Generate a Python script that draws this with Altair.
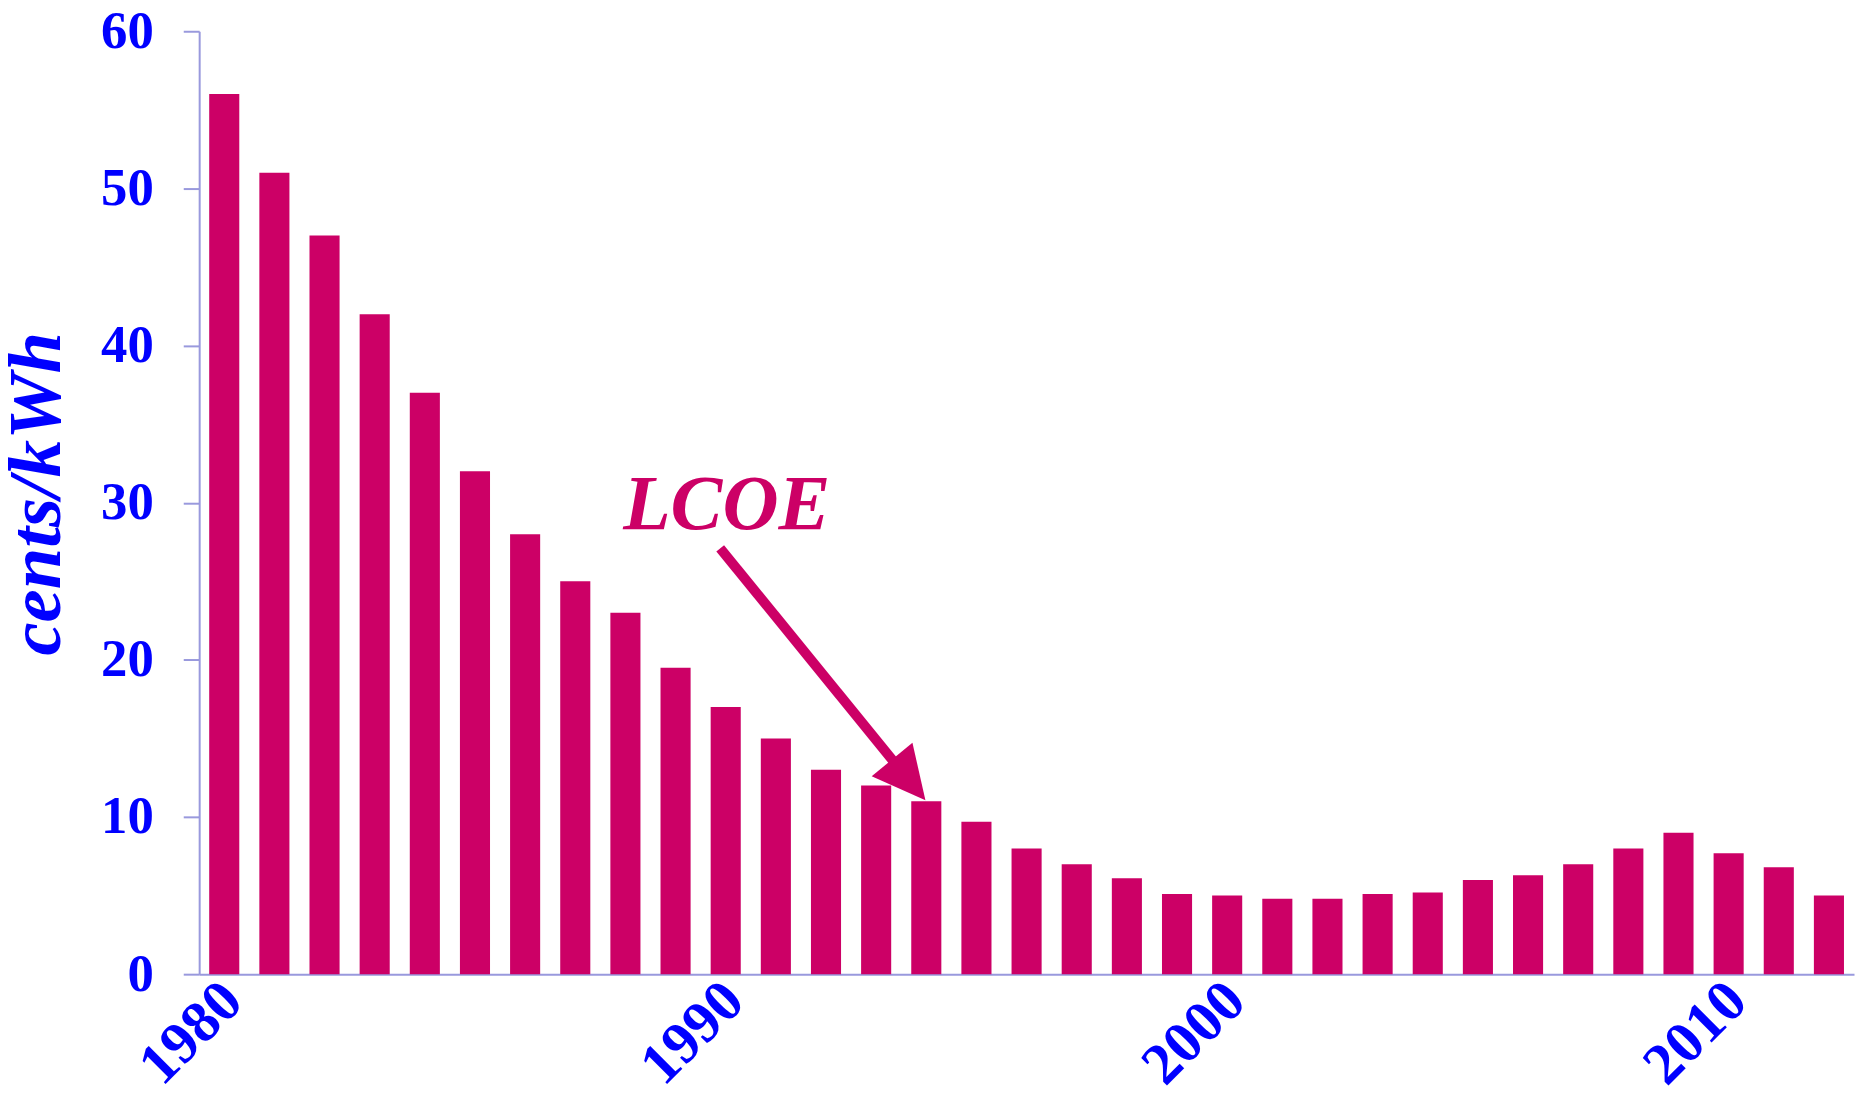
import altair as alt
import pandas as pd

# ---- data ----
years = list(range(1980, 2013))
lcoe = [56, 51, 47, 42, 37, 32, 28, 25, 23, 19.5, 17, 15, 13, 12, 11, 9.7, 8, 7,
        6.1, 5.1, 5.0, 4.8, 4.8, 5.1, 5.2, 6.0, 6.3, 7.0, 8.0, 9.0, 7.7, 6.8, 5.0]
x_ticks = [1980, 1990, 2000, 2010]
y_ticks = [0, 10, 20, 30, 40, 50, 60]
label_text = ["LCOE"]

# annotation anchor points (data coordinates)
label_pos_x = [1990.02]
label_pos_y = [28.3]
arrow_x = [1989.89]
arrow_y = [27.1]
arrow_x2 = [1993.49]
arrow_y2 = [12.98]
head_x = [1993.65]
head_y = [12.36]

BAR = "#CC0066"
BLUE = "#0000FF"
AXIS = "#9999DD"
FONT = "Liberation Serif"

XDOM = [1979.5, 2012.5]
xscale = alt.Scale(domain=XDOM, nice=False, zero=False)
yscale = alt.Scale(domain=[0, 60], nice=False)

xaxis = alt.Axis(values=x_ticks, format="d", title=None, ticks=False,
                 labelAngle=-45, labelAlign="right", labelBaseline="middle",
                 labelPadding=17, labelOffset=8,
                 labelFont=FONT, labelFontSize=59, labelFontWeight="bold",
                 labelColor=BLUE, domainColor=AXIS, domainWidth=2,
                 grid=False, labelOverlap=False)
yaxis = alt.Axis(values=y_ticks, title="cents/kWh", grid=False,
                 tickSize=16, tickColor=AXIS, tickWidth=2,
                 domainColor=AXIS, domainWidth=2,
                 labelPadding=30, labelFont=FONT, labelFontSize=53,
                 labelFontWeight="bold", labelColor=BLUE,
                 titleFont=FONT, titleFontSize=75, titleFontWeight="bold",
                 titleFontStyle="italic", titleColor=BLUE,
                 titleAngle=-90, titleAlign="center", titleBaseline="alphabetic",
                 titleX=-140, titleY=464)


def X(field):
    return alt.X(field, type="quantitative", scale=xscale, axis=xaxis, title=None)


def Y(field):
    return alt.Y(field, type="quantitative", scale=yscale, axis=yaxis, title="cents/kWh")


df = pd.DataFrame({"year": years, "value": lcoe})

bars = alt.Chart(df).transform_calculate(
    x0="datum.year - 0.3", x1="datum.year + 0.3", base="0"
).mark_bar(color=BAR).encode(
    x=X("x0"),
    x2="x1:Q",
    y=Y("value"),
    y2="base:Q",
)

ann = pd.DataFrame({"x0": label_pos_x, "value": label_pos_y, "t": label_text})
text = alt.Chart(ann).mark_text(
    font=FONT, fontSize=78, fontWeight="bold", fontStyle="italic", color=BAR,
    align="center", baseline="alphabetic"
).encode(
    x=X("x0"),
    y=Y("value"),
    text="t:N",
)

arr = pd.DataFrame({"x0": arrow_x, "value": arrow_y, "x1": arrow_x2, "v2": arrow_y2})
line = alt.Chart(arr).mark_rule(color=BAR, strokeWidth=10, strokeCap="butt").encode(
    x=X("x0"),
    y=Y("value"),
    x2="x1:Q",
    y2="v2:Q",
)

hd = pd.DataFrame({"x0": head_x, "value": head_y})
head = alt.Chart(hd).mark_point(
    shape="M0,-1L-1,1L1,1Z", filled=True, opacity=1, color=BAR,
    size=2800, angle=140.7, strokeWidth=0
).encode(
    x=X("x0"),
    y=Y("value"),
)

chart = alt.layer(bars, text, line, head).properties(
    width=1662, height=947,
    background="white",
    autosize=alt.AutoSizeParams(type="none"),
    padding={"left": 192, "top": 21, "right": 1, "bottom": 119},
).configure_view(stroke=None, strokeWidth=0)

chart.save("out.html", embed_options={"renderer": "svg", "actions": False})
